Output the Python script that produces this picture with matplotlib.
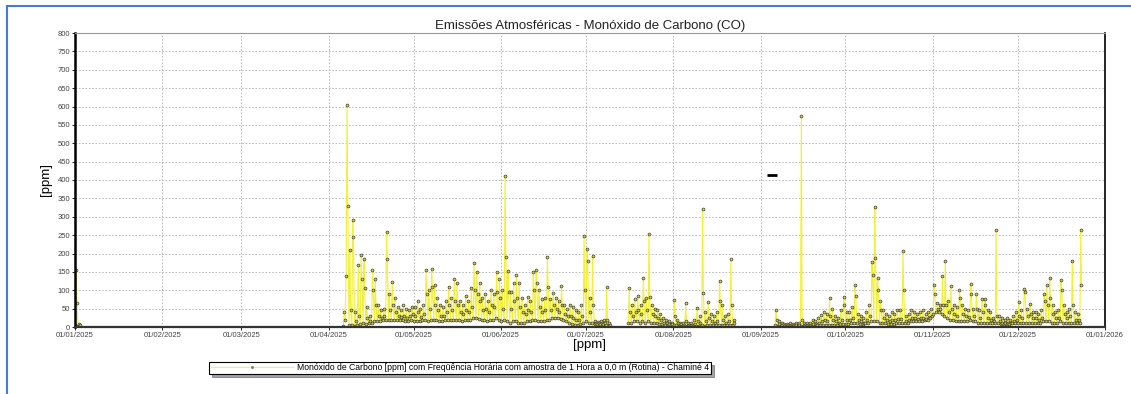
import numpy as np
import matplotlib
matplotlib.use("Agg")
import matplotlib.pyplot as plt
import matplotlib.dates as mdates
from matplotlib.lines import Line2D

plt.rcParams["font.family"] = ["Liberation Sans", "DejaVu Sans"]

# --------------------------------------------------
# DADOS - valores diários: pico / intermédio / base
# --------------------------------------------------
inicio_jan = "2025-01-01"
jan_pico = [155, 8]
jan_medio = [65, 5]
jan_base = [5, 3]

inicio = "2025-04-06"
pico = [
    # abril (6..30)
    40, 605, 210, 290, 40, 170, 195, 185, 55, 30, 155, 130, 60, 45, 50, 258, 90, 122, 80, 55,
    45, 60, 50, 45, 55,
    # maio
    55, 71, 50, 60, 155, 100, 157, 114, 80, 60, 55, 70, 110, 80, 130, 120, 70, 60, 85, 70,
    106, 174, 150, 120, 80, 90, 70, 100, 90, 150, 130,
    # junho
    100, 410, 152, 95, 120, 141, 120, 80, 60, 82, 70, 150, 155, 100, 75, 80, 190, 75, 93, 80,
    70, 112, 60, 50, 60, 55, 45, 40, 60, 248,
    # julho
    212, 80, 193, 15, 14, 15, 18, 109, 10, None, None, None, None, None, None, 106, 60, 75, 85, 60,
    133, 80, 253, 60, 50, 45, 35, 25, 20, 15, 12,
    # agosto
    73, 20, 12, 10, 65, 12, 10, 20, 52, 30, 321, 40, 68, 35, 30, 40, 125, 60, 30, 35,
    185, 20, None, None, None, None, None, None, None, None, None,
    # setembro
    None, None, None, None, None, 46, 15, 10, 8, 8, 10, 8, 10, 12, 575, 10, 10, 12, 19, 15,
    25, 33, 40, 35, 78, 50, 30, 25, 45, 82,
    # outubro
    40, 40, 55, 114, 35, 30, 25, 40, 60, 178, 327, 133, 70, 45, 35, 30, 40, 35, 45, 45,
    207, 30, 35, 45, 40, 35, 40, 45, 35, 40, 50,
    # novembro
    115, 65, 60, 139, 180, 70, 112, 60, 55, 100, 60, 50, 45, 117, 50, 90, 45, 75, 75, 45,
    40, 25, 264, 30, 25, 20, 25, 20, 30, 40,
    # dezembro (1..23)
    69, 45, 103, 50, 63, 40, 40, 35, 45, 90, 114, 133, 60, 40, 45, 128, 60, 40, 50, 180,
    40, 35, 264,
]
medio = [
    20, 330, 45, 245, 15, 30, 130, 105, 25, 15, 100, 60, 30, 25, 30, 185, 45, 60, 40, 30,
    28, 30, 25, 30, 35,
    30, 40, 28, 35, 90, 50, 110, 60, 45, 30, 30, 40, 60, 45, 70, 60, 40, 35, 45, 40,
    55, 100, 90, 70, 45, 50, 40, 60, 55, 95, 80,
    50, 191, 95, 50, 70, 80, 55, 40, 35, 45, 40, 100, 120, 55, 40, 45, 109, 45, 60, 50,
    40, 60, 35, 30, 30, 25, 20, 20, 30, 100,
    180, 40, 60, 10, 10, 12, 12, 20, 6, None, None, None, None, None, None, 40, 30, 40, 45, 35,
    70, 45, 82, 35, 30, 25, 20, 12, 10, 8, 8,
    30, 10, 8, 6, 15, 6, 6, 8, 15, 10, 93, 15, 25, 15, 12, 15, 70, 20, 12, 15,
    60, 10, None, None, None, None, None, None, None, None, None,
    None, None, None, None, None, 20, 8, 6, 5, 5, 5, 5, 6, 6, 20, 6, 6, 6, 8, 8,
    10, 15, 18, 15, 30, 20, 15, 12, 20, 60,
    20, 20, 25, 85, 18, 15, 12, 20, 30, 141, 188, 100, 45, 25, 20, 15, 20, 18, 22, 22,
    100, 15, 20, 25, 25, 22, 25, 25, 22, 28, 30,
    90, 50, 48, 60, 60, 40, 50, 35, 30, 80, 35, 30, 28, 90, 30, 50, 25, 40, 60, 25,
    20, 15, 30, 15, 12, 12, 12, 12, 15, 20,
    30, 25, 95, 30, 35, 25, 25, 20, 25, 70, 60, 80, 35, 25, 25, 100, 35, 25, 30, 60,
    20, 20, 114,
]
base = [
    2, 140, 5, 5, 3, 5, 8, 10, 8, 10, 12, 15, 15, 15, 18, 20, 20, 20, 20, 18,
    18, 20, 15, 15, 18,
    15, 15, 15, 18, 20, 15, 20, 18, 18, 15, 15, 18, 20, 18, 20, 20, 18, 15, 18, 20,
    20, 25, 25, 22, 20, 18, 15, 20, 20, 25, 20,
    15, 20, 15, 12, 15, 15, 12, 12, 12, 15, 15, 18, 18, 15, 15, 15, 20, 20, 25, 25,
    25, 22, 20, 15, 10, 8, 5, 5, 8, 10,
    15, 10, 10, 8, 8, 8, 8, 5, 3, None, None, None, None, None, None, 10, 10, 15, 15, 12,
    15, 12, 15, 12, 10, 10, 8, 8, 6, 5, 5,
    5, 5, 4, 3, 4, 3, 3, 3, 4, 4, 5, 4, 5, 5, 5, 5, 6, 5, 5, 5,
    5, 5, None, None, None, None, None, None, None, None, None,
    None, None, None, None, None, 5, 4, 3, 3, 3, 3, 3, 3, 3, 4, 3, 3, 4, 4, 4,
    5, 5, 5, 6, 6, 6, 6, 6, 8, 8,
    8, 8, 10, 10, 10, 8, 8, 10, 10, 15, 15, 15, 12, 10, 10, 8, 8, 8, 10, 10,
    10, 10, 12, 15, 15, 15, 15, 15, 18, 20, 25,
    35, 40, 40, 35, 30, 25, 20, 18, 15, 15, 15, 15, 15, 18, 15, 15, 12, 12, 12, 10,
    10, 10, 10, 10, 8, 8, 8, 8, 10, 10,
    10, 10, 12, 12, 12, 12, 12, 12, 12, 15, 15, 15, 12, 12, 12, 15, 12, 12, 12, 12,
    10, 10, 10,
]

# ponto isolado (traço preto)
isolado_data = "2025-09-05"
isolado_valor = 413

titulo = "Emissões Atmosféricas - Monóxido de Carbono (CO)"
legenda = ("Monóxido de Carbono [ppm] com Freqüência Horária com amostra de 1 Hora "
           "a 0,0 m (Rotina) - Chaminé 4")


def _serie(data_inicio, p, m, b):
    """intercala base / pico / intermédio dentro de cada dia"""
    d0 = mdates.datestr2num(data_inicio)
    dias = d0 + np.arange(len(p))
    x = np.column_stack([dias + 0.1, dias + 0.4, dias + 0.65]).ravel()
    y = np.column_stack([
        np.array(b, dtype=float), np.array(p, dtype=float), np.array(m, dtype=float)
    ]).ravel()
    return x, y


fig = plt.figure(figsize=(11.31, 3.94), dpi=100)
ax = fig.add_axes([75 / 1131, 1 - 327 / 394, 1030 / 1131, 294 / 394])

estilo = dict(
    color="#f2ef3a", lw=0.8, marker="o", ms=2.1,
    mfc="#cfcc55", mec="#333326", mew=0.45,
)
for ini, p, m, b in [(inicio_jan, jan_pico, jan_medio, jan_base), (inicio, pico, medio, base)]:
    x, y = _serie(ini, p, m, b)
    ax.plot(x, y, **estilo)

ax.plot([mdates.datestr2num(isolado_data)], [isolado_valor], marker="_",
        ms=7, mew=2, color="black", ls="none")

# --------------------------------------------------
# EIXOS
# --------------------------------------------------
ax.set_xlim(mdates.datestr2num("2025-01-01"), mdates.datestr2num("2026-01-01"))
ax.set_ylim(0, 800)
ax.set_yticks(np.arange(0, 801, 50))
ax.xaxis.set_major_locator(mdates.MonthLocator())
ax.xaxis.set_major_formatter(mdates.DateFormatter("%d/%m/%Y"))
ax.tick_params(labelsize=5.5, labelcolor="#444444", length=2, width=0.6, pad=1.5)
ax.grid(True, ls=(0, (2, 2)), color="#b0b0b0", lw=0.6)
ax.set_axisbelow(True)

ax.spines["left"].set_linewidth(1.8)
ax.spines["left"].set_color("black")
ax.spines["bottom"].set_linewidth(1.6)
ax.spines["bottom"].set_color("#333333")
ax.spines["right"].set_linewidth(1.2)
ax.spines["right"].set_color("black")
ax.spines["top"].set_linewidth(0.8)
ax.spines["top"].set_color("#999999")

ax.set_title(titulo, fontsize=9.5, color="#222222", pad=3)
ax.set_xlabel("[ppm]", fontsize=9.5, labelpad=0)
ax.set_ylabel("[ppm]", fontsize=9.5, labelpad=4)

handle = Line2D([], [], color="#eeee90", lw=0.9, marker="o", ms=1.2,
                mfc="#888866", mec="#888866")
leg = fig.legend(
    [handle], [legenda], loc="center", bbox_to_anchor=(460 / 1131, 1 - 368 / 394),
    fontsize=6.2, handlelength=9.5, numpoints=1, fancybox=False, shadow=True,
    edgecolor="black", borderpad=0.2, handletextpad=0.5, borderaxespad=0,
)
leg.get_frame().set_linewidth(0.8)

# moldura azul
fig.add_artist(Line2D([7 / 1131, 7 / 1131], [0, 1 - 6 / 394], color="#3d7fd6", lw=1.5))
fig.add_artist(Line2D([7 / 1131, 1], [1 - 6 / 394, 1 - 6 / 394], color="#3d7fd6", lw=1.5))

fig.savefig("out.png", dpi=100)
plt.close(fig)
